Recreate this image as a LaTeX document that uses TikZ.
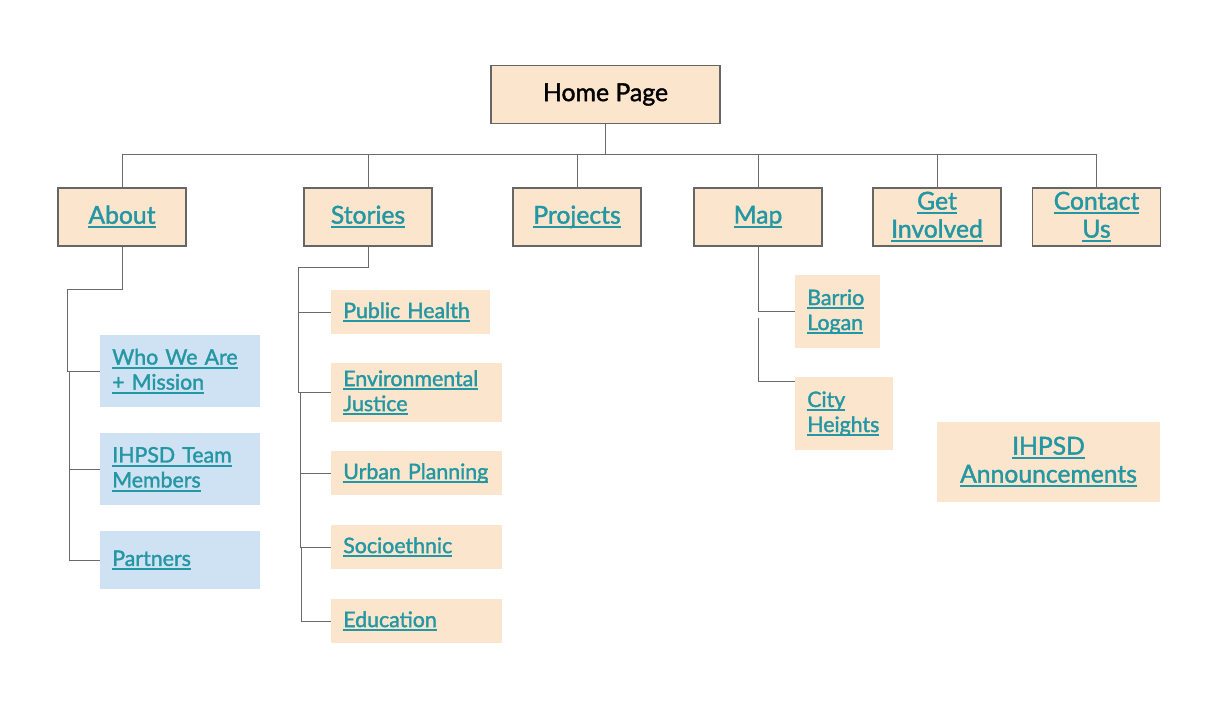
\documentclass[tikz,border=0pt]{standalone}
\usepackage{fontspec}
\setmainfont{Lato}[FakeBold=1.6]

\definecolor{peach}{HTML}{FCE5CD}
\definecolor{paleblue}{HTML}{CFE2F3}
\definecolor{linkteal}{HTML}{2397A3}
\definecolor{boxgray}{HTML}{666666}
\definecolor{linegray}{HTML}{6B6B6B}

% underlined link text
\newcommand{\lnk}[1]{\leavevmode\setbox0\hbox{#1}\rlap{\rule[-0.19em]{\wd0}{0.09em}}\box0}

\begin{document}
\begin{tikzpicture}[x=0.75pt, y=-0.75pt,
    main/.style={draw=boxgray, line width=1pt, fill=peach, minimum width=96pt,
      minimum height=43.5pt, inner sep=0pt, align=center, text=linkteal,
      font=\fontsize{18.5}{21}\selectfont},
    sub/.style={fill=peach, anchor=north west, align=left, inner xsep=9pt,
      inner ysep=0pt, text width=#1, text=linkteal,
      font=\fontsize{16}{18.75}\selectfont},
    wire/.style={draw=linegray, line width=0.75pt}]

  \useasboundingbox (0,0) rectangle (1222,712);

  % top level
  \node[main, minimum width=171.75pt, text=black, font=\fontsize{18.6}{21}\selectfont] (home) at (605.5,94.5) {Home Page};

  \node[main] (about) at (122,217) {\lnk{About}};
  \node[main] (stories) at (368,217) {\lnk{Stories}};
  \node[main] (projects) at (577,217) {\lnk{Projects}};
  \node[main] (map) at (758,217) {\lnk{Map}};
  \node[main] (get) at (937,217) {\lnk{Get}\\\lnk{Involved}};
  \node[main] (contact) at (1096.5,217) {\lnk{Contact}\\\lnk{Us}};

  % about pages
  \node[sub=102pt, fill=paleblue, minimum height=54pt] (who) at (100,335) {\lnk{Who We Are}\\\lnk{+ Mission}};
  \node[sub=102pt, fill=paleblue, minimum height=54pt] (team) at (100,433) {\lnk{IHPSD Team}\\\lnk{Members}};
  \node[sub=102pt, fill=paleblue, minimum height=43.5pt] (partners) at (100,531) {\lnk{Partners}};

  % stories pages
  \node[sub=101.25pt, minimum height=33pt] (health) at (331,290) {\lnk{Public Health}};
  \node[sub=110.25pt, minimum height=44.25pt] (env) at (331,363) {\lnk{Environmental}\\\lnk{Justice}};
  \node[sub=110.25pt, minimum height=33pt] (urban) at (331,451) {\lnk{Urban Planning}};
  \node[sub=110.25pt, minimum height=33pt] (socio) at (331,525) {\lnk{Socioethnic}};
  \node[sub=110.25pt, minimum height=33pt] (educ) at (331,599) {\lnk{Education}};

  % map pages
  \node[sub=45.75pt, minimum height=54.75pt] (barrio) at (795,275) {\lnk{Barrio}\\\lnk{Logan}};
  \node[sub=55.5pt, minimum height=54.75pt] (city) at (795,377) {\lnk{City}\\\lnk{Heights}};

  \node[main, draw=none, minimum width=167.25pt, minimum height=60pt] (news) at (1048.5,462) {\lnk{IHPSD}\\\lnk{Announcements}};

  % bus under the home page
  \coordinate (bus) at (605.5,155);
  \draw[wire] (home.south) -- (bus);
  \draw[wire] (about.north) -- (about.north |- bus) -- (contact.north |- bus) -- (contact.north);
  \foreach \n in {stories,projects,map,get}
    \draw[wire] (\n.north) -- (\n.north |- bus);

  % about branch
  \coordinate (a1) at (67,290);
  \coordinate (a2) at (69,371);
  \draw[wire] (about.south) |- (a1) |- (who.west);
  \draw[wire] (a2) |- (partners.west);
  \draw[wire] (team.west) -- (team.west -| a2);

  % stories branch
  \coordinate (s1) at (298,268);
  \coordinate (s2) at (300,392.5);
  \coordinate (s3) at (301,547);
  \draw[wire] (stories.south) |- (s1) |- (health.west);
  \draw[wire] (s1) |- (env.west);
  \draw[wire] (s2) |- (socio.west);
  \draw[wire] (urban.west) -- (urban.west -| s2);
  \draw[wire] (s3) |- (educ.west);

  % map branch
  \coordinate (m1) at (758,318);
  \draw[wire] (map.south) |- (barrio.west);
  \draw[wire] (m1) |- ([yshift=-3.75pt]city.north west);

\end{tikzpicture}
\end{document}
